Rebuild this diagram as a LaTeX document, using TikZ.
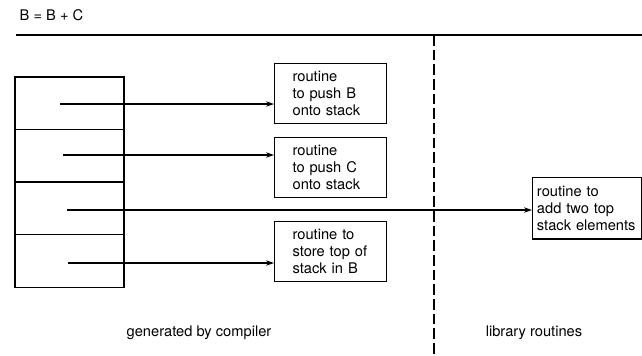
\documentclass[tikz,border=0pt]{standalone}
\usepackage{fontspec}
\setmainfont{TeX Gyre Heros}
\usetikzlibrary{arrows.meta,positioning}
\tikzset{
  % 栈单元
  cell/.style={draw, line width=0.9pt, outer sep=0pt, inner sep=0pt,
    minimum width=81.75pt, minimum height=39.4pt},
  % 例程盒子
  routine/.style={draw, line width=0.9pt, anchor=north west, align=left,
    inner xsep=13.5pt, text width=57pt, minimum height=45pt,
    font=\fontsize{11}{12.75}\selectfont},
  % 库例程盒子
  libbox/.style={routine, inner xsep=3.25pt, text width=75pt},
  % 箭头样式
  arr/.style={-{Stealth[length=6pt,width=4pt]}, line width=0.9pt},
  lab/.style={font=\fontsize{11}{13}\selectfont},
}
\begin{document}
\begin{tikzpicture}[x=0.75pt, y=-0.75pt]
    \useasboundingbox (0,0) rectangle (642,355);

    % 标题与分隔线
    \node[lab, anchor=west] (title) at (15,15) {B = B + C};
    \draw[line width=0.9pt] (16,35) -- (642,35);
    \draw[line width=0.9pt, dash pattern=on 8pt off 3pt] (434,35) -- (434,355);

    % 编译器生成的栈
    \node[cell, anchor=north west] (c1) at (15,77) {};
    \node[cell, below=0pt of c1] (c2) {};
    \node[cell, below=0pt of c2] (c3) {};
    \node[cell, below=0pt of c3] (c4) {};

    % 例程
    \node[routine] (pushB) at (274,63) {routine\\to push B\\onto stack};
    \node[routine] (pushC) at (274,137) {routine\\to push C\\onto stack};
    \node[routine] (store) at (274,221) {routine to\\store top of\\stack in B};
    \node[libbox, minimum height=46pt] (add) at (532,177) {routine to\\add two top\\stack elements};

    % 调用
    \coordinate (s1) at (60,104);
    \coordinate (s2) at (63,155);
    \coordinate (s3) at (67,210);
    \coordinate (s4) at (68,263);
    \draw[arr] (s1) -- (s1 -| pushB.west);
    \draw[arr] (s2) -- (s2 -| pushC.west);
    \draw[arr] (s3) -- (s3 -| add.west);
    \draw[arr] (s4) -- (s4 -| store.west);

    \node[lab] (gen) at (199,333) {generated by compiler};
    \node[lab] (lib) at (534,333) {library routines};
\end{tikzpicture}
\end{document}
